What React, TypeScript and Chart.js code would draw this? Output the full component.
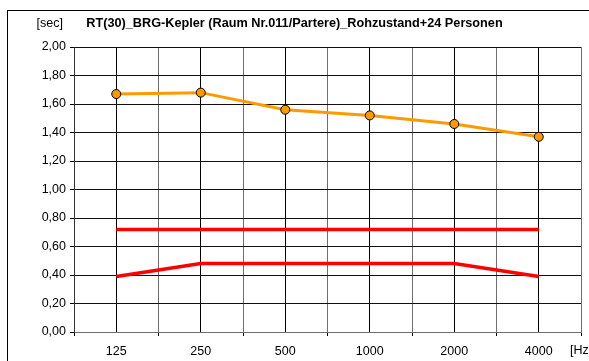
import React, { useEffect, useRef } from "react";
import { Chart, registerables } from "chart.js";

Chart.register(...registerables);

const TITLE = "RT(30)_BRG-Kepler (Raum Nr.011/Partere)_Rohzustand+24 Personen";
const Y_UNIT = "[sec]";
const X_UNIT = "[Hz]";
const categories = ["125", "250", "500", "1000", "2000", "4000"];
const measured = [1.67, 1.68, 1.56, 1.52, 1.46, 1.37];
const upperLimit = [0.72, 0.72, 0.72, 0.72, 0.72, 0.72];
const lowerLimit = [0.39, 0.48, 0.48, 0.48, 0.48, 0.39];

const FONT = "'Liberation Sans', Arial, sans-serif";
const TICK_SIZE = 12.5;

const toPoints = (arr: number[]) => arr.map((v, i) => ({ x: i, y: v }));

const framePlugin = {
  id: "frameAndUnits",
  afterDraw(chart: any) {
    const ctx = chart.ctx as CanvasRenderingContext2D;
    const area = chart.chartArea;
    ctx.save();
    ctx.strokeStyle = "#000";
    ctx.lineWidth = 1;
    ctx.strokeRect(7.5, 10.5, 700, 500);
    ctx.fillStyle = "#000";
    ctx.font = `${TICK_SIZE}px ${FONT}`;
    ctx.textBaseline = "middle";
    ctx.textAlign = "right";
    ctx.fillText(Y_UNIT, 63, 23.5);
    ctx.textAlign = "left";
    ctx.fillText(X_UNIT, 570, area.bottom + 18.5);
    ctx.restore();
  },
};

export default function App() {
  const ref = useRef<HTMLCanvasElement | null>(null);

  useEffect(() => {
    if (!ref.current) return;
    const isInt = (v: number) => Math.abs(v - Math.round(v)) < 1e-6;
    const chart = new Chart(ref.current, {
      type: "line",
      data: {
        datasets: [
          {
            label: "Messung",
            data: toPoints(measured),
            borderColor: "#FF9900",
            backgroundColor: "#FF9900",
            borderWidth: 3,
            pointRadius: 4.5,
            pointBackgroundColor: "#FF9900",
            pointBorderColor: "#000",
            pointBorderWidth: 1,
            tension: 0,
          },
          {
            label: "Obergrenze",
            data: toPoints(upperLimit),
            borderColor: "#FF0000",
            borderWidth: 3.5,
            pointRadius: 0,
            tension: 0,
          },
          {
            label: "Untergrenze",
            data: toPoints(lowerLimit),
            borderColor: "#FF0000",
            borderWidth: 3.5,
            pointRadius: 0,
            tension: 0,
          },
        ],
      },
      options: {
        responsive: false,
        animation: false,
        layout: { padding: { left: 8, right: 8, top: 0, bottom: 0 } },
        plugins: {
          legend: { display: false },
          tooltip: { enabled: false },
          title: {
            display: true,
            text: TITLE,
            color: "#000",
            font: { family: FONT, size: 12.7, weight: "bold" },
            padding: { top: 16, bottom: 15.8 },
          },
        },
        scales: {
          x: {
            type: "linear",
            min: -0.5,
            max: 5.5,
            afterFit: (s: any) => {
              s.height = 29;
            },
            afterBuildTicks: (s: any) => {
              const t = [];
              for (let i = 0; i <= 12; i++) t.push({ value: -0.5 + i * 0.5 });
              s.ticks = t;
            },
            ticks: {
              autoSkip: false,
              maxRotation: 0,
              padding: 8,
              color: "#000",
              font: { family: FONT, size: TICK_SIZE },
              callback: (v: any) => {
                const n = Number(v);
                return isInt(n) ? categories[Math.round(n)] ?? "" : "";
              },
            },
            grid: {
              drawTicks: true,
              tickLength: 4,
              lineWidth: 1,
              color: (c: any) => (isInt(c.tick?.value ?? 0) ? "#000" : "#6e6e6e"),
              tickColor: (c: any) => (isInt(c.tick?.value ?? 0) ? "rgba(0,0,0,0)" : "#000"),
            },
            border: { display: true, color: "#6e6e6e", width: 1 },
          },
          y: {
            min: 0,
            max: 2,
            afterFit: (s: any) => {
              s.width = 66;
            },
            ticks: {
              stepSize: 0.2,
              padding: 4,
              color: "#000",
              font: { family: FONT, size: TICK_SIZE },
              callback: (v: any) => Number(v).toFixed(2).replace(".", ","),
            },
            grid: {
              tickLength: 4,
              color: "#111",
              tickColor: "#000",
              lineWidth: 1,
            },
            border: { display: true, color: "#333", width: 1 },
          },
        },
      },
      plugins: [framePlugin],
    });
    return () => chart.destroy();
  }, []);

  return (
    <div style={{ position: "absolute", left: 0, top: 0, width: 589, height: 361, background: "#fff" }}>
      <canvas ref={ref} width={589} height={361} style={{ display: "block" }} />
    </div>
  );
}
